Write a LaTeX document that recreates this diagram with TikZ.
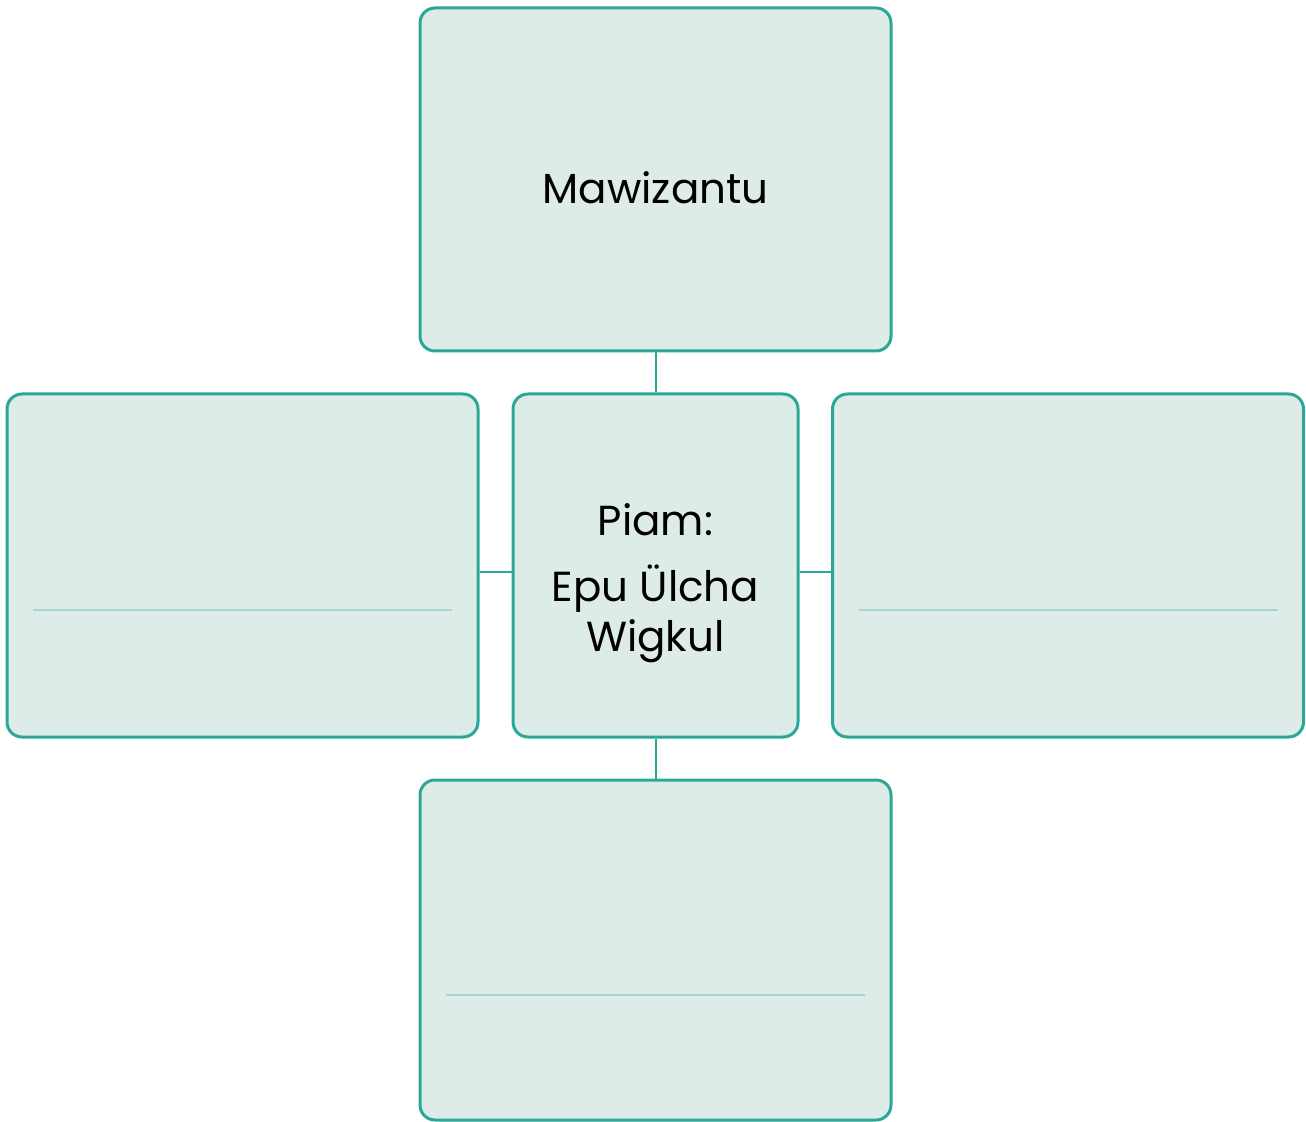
\documentclass[tikz,border=0pt]{standalone}
\usepackage{fontspec}
\setmainfont{Poppins}
\usepackage{tikz}
\usetikzlibrary{positioning,calc}
\definecolor{tealink}{RGB}{42,167,150}
\definecolor{mintfill}{RGB}{222,236,233}
\definecolor{mintline}{RGB}{168,213,203}

\begin{document}
\begin{tikzpicture}[x=0.5pt,y=-0.5pt,font=\fontsize{21}{25}\selectfont,
  card/.style={draw=tealink,line width=1.5pt,fill=mintfill,rounded corners=7.5pt,
    minimum height=171.5pt,inner sep=0pt},
  wide/.style={card,minimum width=235.5pt},
  caption/.style={inner sep=0pt,align=center},
  link/.style={draw=tealink,line width=1pt},
  rule/.style={draw=mintline,line width=0.8pt}]
\useasboundingbox (0,0) rectangle (1306,1122);
\node[wide] (topbox) at (655.5,179.5) {};
\node[card,minimum width=142.5pt] (midbox) at (655.5,565.5) {};
\node[wide] (leftbox) at (242.5,565.5) {};
\node[wide] (rightbox) at (1068,565.5) {};
\node[wide,minimum height=170pt] (lowbox) at (655.5,950) {};
\node[caption] (toptext) at ($(topbox.center)+(0,8)$) {Mawizantu};
\node[caption] (midtext) at ($(midbox.center)+(0,18)$) {Piam:\\[8pt]Epu Ülcha\\Wigkul};
\draw[link] (topbox) -- (midbox);
\draw[link] ($(leftbox.east)+(0,6.5)$) -- ($(midbox.west)+(0,6.5)$);
\draw[link] ($(midbox.east)+(0,6.5)$) -- ($(rightbox.west)+(0,6.5)$);
\draw[link] (midbox) -- (lowbox);
\draw[rule] ($(leftbox.center)+(-209.5,44.5)$) -- ($(leftbox.center)+(209.5,44.5)$);
\draw[rule] ($(rightbox.center)+(-209.5,44.5)$) -- ($(rightbox.center)+(209.5,44.5)$);
\draw[rule] ($(lowbox.center)+(-209.5,45)$) -- ($(lowbox.center)+(209.5,45)$);
\end{tikzpicture}
\end{document}
